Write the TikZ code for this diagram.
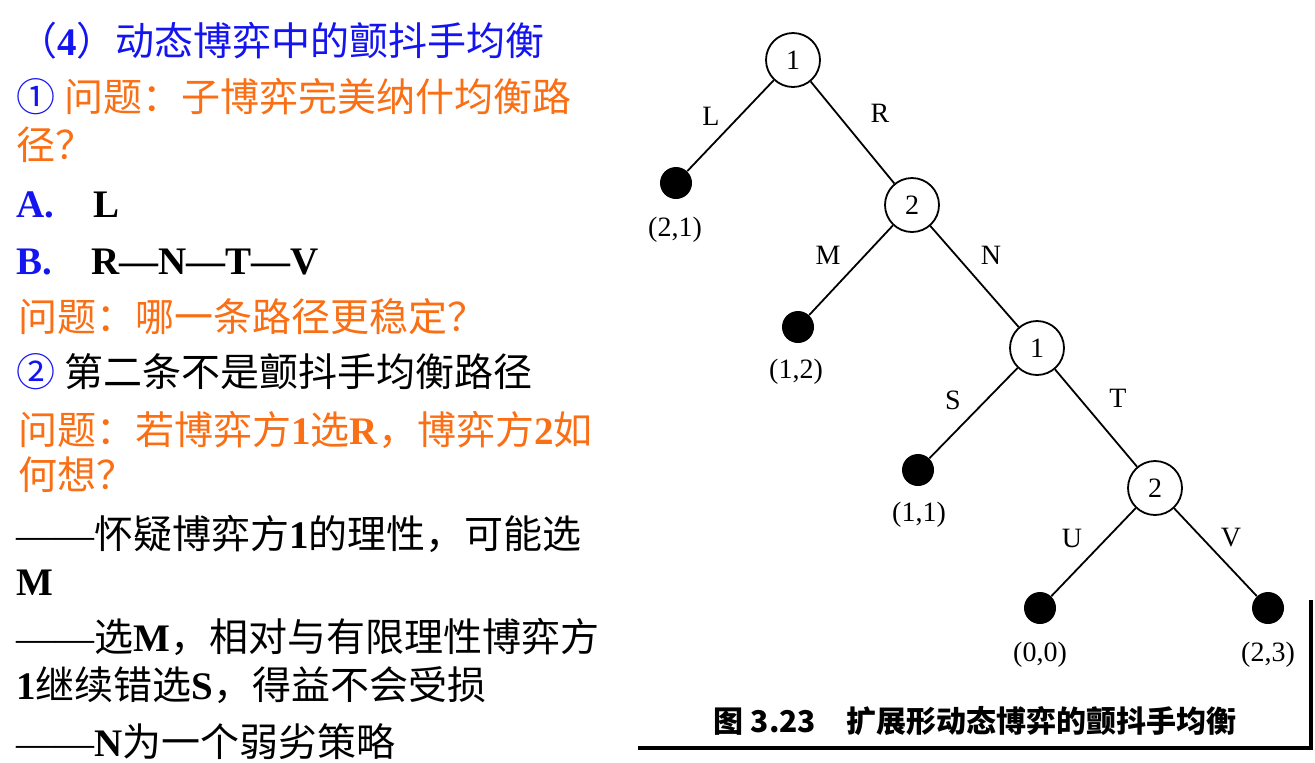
\documentclass[tikz,border=0pt]{standalone}
\usepackage{fontspec}
\setmainfont{Liberation Serif}
\newfontfamily\zh{Noto Sans CJK SC}
\newcommand{\lt}[1]{{\rmfamily\bfseries #1}}
\definecolor{og}{RGB}{250,110,20}
\definecolor{bl}{RGB}{20,20,240}
\begin{document}
\begin{tikzpicture}[x=0.5pt,y=-0.5pt,
  txt/.style={anchor=base west,inner sep=0pt,font=\fontsize{19.5}{21}\selectfont},
  dec/.style={circle,draw,line width=0.9pt,minimum size=27pt,inner sep=0pt,font=\fontsize{14}{15}\selectfont},
  leaf/.style={circle,fill=black,minimum size=16pt,inner sep=0pt},
  lab/.style={font=\fontsize{14}{15}\selectfont,inner sep=0pt},
  edge/.style={line width=0.9pt}]
\useasboundingbox (0,0) rectangle (1315,762);
% left text
\node[txt,bl] (t0) at (18,55) {\zh （\lt{4}）动态博弈中的颤抖手均衡};
\node[txt] (t1) at (16,111) {\zh\color{bl}① \color{og}问题：子博弈完美纳什均衡路};
\node[txt,og] (t2) at (16,159) {\zh 径？};
\node[txt] (t3) at (16,217) {\textbf{\color{bl}A.\quad\color{black}L}};
\node[txt] (t4) at (16,274) {\textbf{\color{bl}B.\quad\color{black}R—N—T—V}};
\node[txt,og] (t5) at (18,331) {\zh 问题：哪一条路径更稳定？};
\node[txt] (t6) at (16,386) {\zh\color{bl}② \color{black}第二条不是颤抖手均衡路径};
\node[txt,og] (t7) at (18,444) {\zh 问题：若博弈方\lt{1}选\lt{R}，博弈方\lt{2}如};
\node[txt,og] (t8) at (18,489) {\zh 何想？};
\node[txt] (t9) at (16,548) {——{\zh 怀疑博弈方}\textbf{1}{\zh 的理性，可能选}};
\node[txt] (t10) at (16,595) {\textbf{M}};
\node[txt] (t11) at (16,651) {——{\zh 选}\textbf{M}{\zh ，相对与有限理性博弈方}};
\node[txt] (t12) at (16,699) {\textbf{1}{\zh 继续错选}\textbf{S}{\zh ，得益不会受损}};
\node[txt] (t13) at (16,756) {——\textbf{N}{\zh 为一个弱劣策略}};
% tree
\node[dec] (n1) at (793,60) {1};
\node[dec] (n2) at (912,205) {2};
\node[dec] (n3) at (1037,348) {1};
\node[dec] (n4) at (1155,488) {2};
\node[leaf] (a) at (676,183) {};
\node[leaf] (b) at (798,327) {};
\node[leaf] (c) at (918,470) {};
\node[leaf] (d) at (1040,608) {};
\node[leaf] (e) at (1268,608) {};
\draw[edge] (n1)--(a); \draw[edge] (n1)--(n2);
\draw[edge] (n2)--(b); \draw[edge] (n2)--(n3);
\draw[edge] (n3)--(c); \draw[edge] (n3)--(n4);
\draw[edge] (n4)--(d); \draw[edge] (n4)--(e);
\node[lab] (lL) at (711,116) {L};
\node[lab] (lR) at (880,113) {R};
\node[lab] (lM) at (828,255) {M};
\node[lab] (lN) at (991,255) {N};
\node[lab] (lS) at (953,400) {S};
\node[lab] (lT) at (1118,398) {T};
\node[lab] (lU) at (1072,538) {U};
\node[lab] (lV) at (1231,538) {V};
\node[lab] (pa) at (675,230) {(2,1)};
\node[lab] (pb) at (796,372) {(1,2)};
\node[lab] (pc) at (919,515) {(1,1)};
\node[lab] (pd) at (1040,655) {(0,0)};
\node[lab] (pe) at (1268,655) {(2,3)};
\node[font=\zh\bfseries\fontsize{15}{16}\selectfont,inner sep=0pt] (cap) at (975,721) {图 3.23\quad 扩展形动态博弈的颤抖手均衡};
\draw[line width=1.6pt] (638,748) -- (1311,748) -- (1311,600);
\end{tikzpicture}
\end{document}
